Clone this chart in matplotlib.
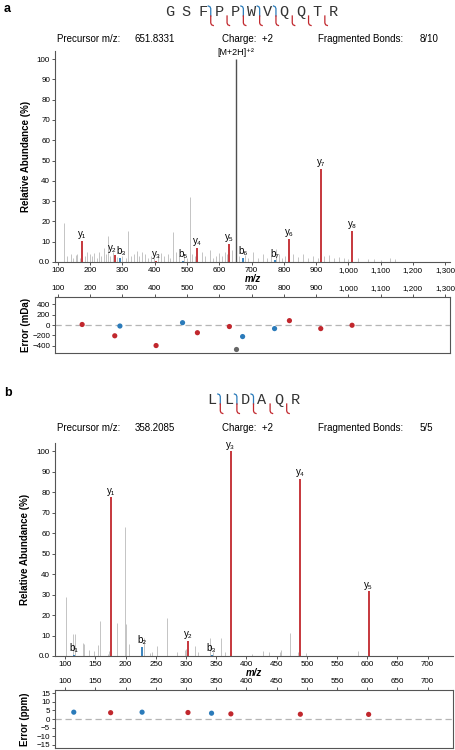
import numpy as np
import matplotlib.pyplot as plt
from matplotlib.lines import Line2D

plt.rcParams['font.family'] = ['Liberation Sans', 'DejaVu Sans']
plt.rcParams['font.size'] = 6.5

RED = '#c1272d'
BLUE = '#2b7bba'
NOISE = '#c4c4c4'
AXC = '#555555'

# ---------------- panel a: GSFPPWVQQTR ----------------
seq_a = "GSFPPWVQQTR"
b_cut_a = [3, 5, 6, 7]          # b ions seen -> cut after residue n
y_cut_a = [1, 2, 3, 4, 5, 6, 7, 8]

prec_a = 651.8331
prec_int_a = 100.0

ion_lab_a = ["y₁", "y₂", "b₃", "y₃", "b₅", "y₄", "y₅", "b₆", "b₇", "y₆", "y₇", "y₈"]
ion_mz_a = [175.12, 276.17, 292.13, 404.22, 486.24, 532.28, 631.35, 672.32, 771.39, 817.43, 914.48, 1011.53]
ion_int_a = [10.5, 3.5, 2.0, 0.5, 0.6, 7.0, 9.0, 2.0, 0.8, 11.5, 46.0, 15.5]
ion_typ_a = ["y", "y", "b", "y", "b", "y", "y", "b", "b", "y", "y", "y"]

noise_mz_a = [120, 127, 140, 147, 155, 160, 168, 185, 190, 198, 205, 213, 220, 228, 235,
              243, 250, 255, 262, 270, 283, 300, 310, 318, 325, 335, 345, 352, 360, 370,
              380, 390, 398, 410, 420, 430, 440, 448, 457, 465, 475, 490, 500, 508, 515,
              525, 545, 555, 570, 580, 590, 600, 610, 618, 625, 640, 660, 680, 690, 705,
              720, 735, 748, 760, 775, 785, 795, 805, 830, 845, 860, 875, 890, 905, 925,
              940, 955, 970, 985, 1000, 1030, 1060, 1080, 1100, 1130, 1145]
noise_int_a = [19, 3, 4, 2, 3.5, 4, 2, 3, 5, 4, 3, 4.5, 2, 5, 3,
               7, 4, 13, 3, 5, 2.5, 3, 2, 15.5, 3, 4, 5.5, 3, 5, 4,
               2, 3, 2, 3, 4.5, 3, 4, 2, 15, 5, 3, 4, 2, 32, 4,
               3, 5, 3, 6, 2, 3, 4.5, 3, 5, 4, 6, 3, 3.5, 2, 5,
               2, 4, 2, 3, 6.5, 4, 2, 3, 4, 2.5, 4, 2, 3, 2, 3,
               3.5, 2, 2.5, 2, 1.5, 2, 1.5, 1.5, 1, 2, 1.5]

err_a = [10, -210, -20, -400, 45, -150, -30, -225, -70, 85, -70, -5]
prec_err_a = -460

# ---------------- panel b: LLDAQR ----------------
seq_b = "LLDAQR"
b_cut_b = [1, 2, 3]
y_cut_b = [1, 2, 3, 4, 5]

ion_lab_b = ["b₁", "y₁", "b₂", "y₂", "b₃", "y₃", "y₄", "y₅"]
ion_mz_b = [114.09, 175.12, 227.18, 303.18, 342.20, 374.21, 489.24, 602.32]
ion_int_b = [0.5, 77.5, 4.5, 7.5, 0.5, 100.0, 86.5, 31.5]
ion_typ_b = ["b", "y", "b", "y", "b", "y", "y", "y"]
err_b = [4.0, 3.7, 4.0, 3.8, 3.4, 3.0, 2.8, 2.7]

noise_mz_b = [101, 112, 116, 130, 131, 140, 148, 155, 158, 170, 172, 186, 199, 200, 205,
              230, 240, 244, 252, 268, 285, 298, 300, 315, 320, 340, 345, 358, 365, 410,
              428, 438, 455, 458, 472, 485, 498, 585]
noise_int_b = [29, 10.5, 10.5, 6.5, 6, 3, 2.5, 5.5, 17, 1, 2.5, 16, 63, 15.5, 6,
               9, 1.5, 2, 5, 18.5, 2, 3, 3.5, 5, 2, 9, 2, 9, 2, 1,
               2.5, 2, 2, 3, 11, 2, 1.5, 2.5]

W, H = 456, 750
fig = plt.figure(figsize=(W / 100, H / 100), dpi=100)


def rect(l, t, r, b):
    return [l / W, 1 - b / H, (r - l) / W, (b - t) / H]


def style_spec(ax, xlim, xticks, ylim):
    ax.set_xlim(*xlim)
    ax.set_ylim(*ylim)
    for s in ['top', 'right']:
        ax.spines[s].set_visible(False)
    for s in ['left', 'bottom']:
        ax.spines[s].set_color(AXC)
        ax.spines[s].set_linewidth(0.8)
    ax.set_xticks(xticks)
    ax.set_xticklabels([f"{t:,}" for t in xticks])
    ax.set_yticks(range(0, 101, 10))
    ax.set_yticklabels(["0.0"] + [str(v) for v in range(10, 101, 10)])
    ax.tick_params(length=2.5, width=0.7, color=AXC, pad=1, labelsize=5.8)
    ax.set_ylabel("Relative Abundance (%)", fontweight='bold', fontsize=7)
    ax.yaxis.set_label_coords(-0.062, 0.5)
    ax.set_xlabel("m/z", fontstyle='italic', fontweight='bold', fontsize=7)
    ax.xaxis.set_label_coords(0.5, -0.058)


def style_err(ax, xlim, xticks, ylim, yticks, ylab):
    ax.set_xlim(*xlim)
    ax.set_ylim(*ylim)
    for s in ax.spines.values():
        s.set_color(AXC)
        s.set_linewidth(0.8)
    ax.xaxis.tick_top()
    ax.set_xticks(xticks)
    ax.set_xticklabels([f"{t:,}" for t in xticks])
    ax.set_yticks(yticks)
    ax.tick_params(length=2.5, width=0.7, color=AXC, pad=1, labelsize=5.8)
    ax.axhline(0, color='#b5b5b5', lw=0.9, ls=(0, (5, 3)), zorder=0)
    ax.set_ylabel(ylab, fontweight='bold', fontsize=7)
    ax.yaxis.set_label_coords(-0.062, 0.5)


def draw_spec(ax, noise_mz, noise_int, mz, inten, typ, labs, nudge):
    ax.vlines(noise_mz, 0, noise_int, color=NOISE, lw=0.7)
    for m, i, t, l in zip(mz, inten, typ, labs):
        c = RED if t == "y" else BLUE
        ax.vlines(m, 0, i, color=c, lw=1.3)
        ax.text(m + nudge.get(l, 0), i + 0.8, l, ha='center', va='bottom', fontsize=7)


def draw_seq(seq, x0, dx, yc, bcuts, ycuts):
    n = len(seq)
    for k, ch in enumerate(seq):
        fig.text((x0 + k * dx) / W, 1 - yc / H, ch, family='Liberation Mono',
                 fontsize=11, ha='center', va='center', color='#333333')
    for c in bcuts:
        x = x0 + (c - 0.5) * dx
        xs = [x - 2.5, x - 0.8, x, x]
        ys = [yc - 6, yc - 5.3, yc - 3.5, yc + 4]
        fig.add_artist(Line2D([v / W for v in xs], [1 - v / H for v in ys],
                              transform=fig.transFigure, color=BLUE, lw=0.9))
    for c in ycuts:
        x = x0 + (n - c - 0.5) * dx
        xs = [x, x, x + 0.8, x + 2.5]
        ys = [yc + 4, yc + 11, yc + 12.8, yc + 13.5]
        fig.add_artist(Line2D([v / W for v in xs], [1 - v / H for v in ys],
                              transform=fig.transFigure, color=RED, lw=0.9))


def header(y, prec, frag):
    fig.text(57 / W, 1 - y / H, "Precursor m/z:", fontsize=7, va='center')
    fig.text(135 / W, 1 - y / H, prec, fontsize=7, va='center')
    fig.text(222 / W, 1 - y / H, "Charge:  +2", fontsize=7, va='center')
    fig.text(318 / W, 1 - y / H, "Fragmented Bonds:", fontsize=7, va='center')
    fig.text(420 / W, 1 - y / H, frag, fontsize=7, va='center')


# ---- panel a ----
fig.text(4 / W, 1 - 9 / H, "a", fontweight='bold', fontsize=9, va='center')
draw_seq(seq_a, 170, 16.3, 12, b_cut_a, y_cut_a)
header(39, "651.8331", "8/10")

xt_a = list(range(100, 1301, 100))
xl_a = (91, 1315)
ax1 = fig.add_axes(rect(55, 51, 450, 262))
draw_spec(ax1, noise_mz_a, noise_int_a, ion_mz_a, ion_int_a, ion_typ_a, ion_lab_a,
          {"y₂": -8, "b₃": 4})
ax1.vlines(prec_a, 0, prec_int_a, color='#505050', lw=1.0)
ax1.text(prec_a, prec_int_a + 1.2, "[M+2H]⁺²", ha='center', va='bottom', fontsize=6.5)
style_spec(ax1, xl_a, xt_a, (0, 104))

ax2 = fig.add_axes(rect(55, 297, 450, 353))
cols_a = [RED if t == "y" else BLUE for t in ion_typ_a]
ax2.scatter(ion_mz_a, err_a, s=14, c=cols_a, zorder=3, linewidths=0)
ax2.scatter([prec_a], [prec_err_a], s=14, c='#666666', zorder=3, linewidths=0)
style_err(ax2, xl_a, xt_a, (-545, 545), range(-400, 401, 200), "Error (mDa)")

# ---- panel b ----
fig.text(4 / W, 1 - 393 / H, "b", fontweight='bold', fontsize=9, va='center')
draw_seq(seq_b, 212, 16.6, 400, b_cut_b, y_cut_b)
header(428, "358.2085", "5/5")

xt_b = list(range(100, 701, 50))
ax3 = fig.add_axes(rect(55, 443, 453, 656))
draw_spec(ax3, noise_mz_b, noise_int_b, ion_mz_b, ion_int_b, ion_typ_b, ion_lab_b, {})
style_spec(ax3, (83, 742), xt_b, (0, 104))

ax4 = fig.add_axes(rect(55, 690, 453, 748))
cols_b = [RED if t == "y" else BLUE for t in ion_typ_b]
ax4.scatter(ion_mz_b, err_b, s=14, c=cols_b, zorder=3, linewidths=0)
style_err(ax4, (83, 742), xt_b, (-17, 17), range(-15, 16, 5), "Error (ppm)")

fig.savefig("out.png", dpi=100)
